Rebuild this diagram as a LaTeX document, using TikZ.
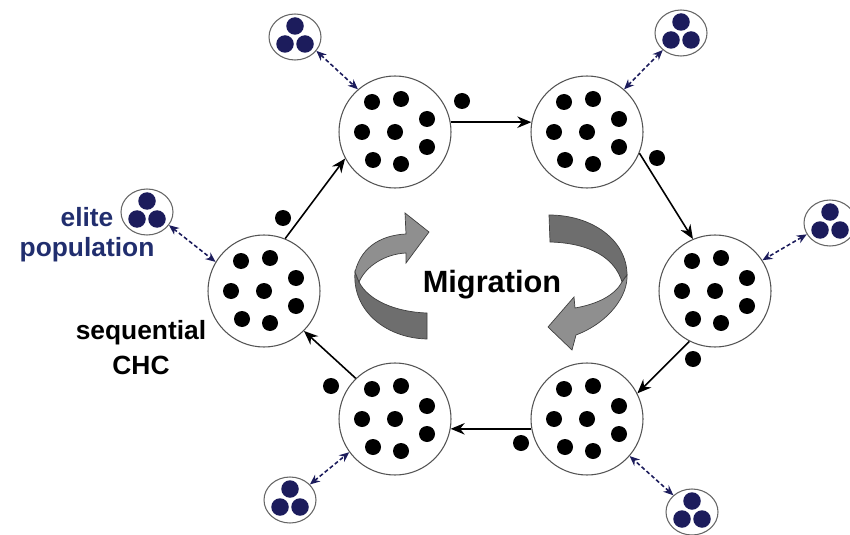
\documentclass[tikz,border=0pt]{standalone}
\usepackage{fontspec}
\setmainfont{Liberation Sans}
\usetikzlibrary{arrows.meta,shapes.geometric}
\definecolor{elitecolor}{rgb}{0.11,0.11,0.36}
\definecolor{elitetext}{rgb}{0.13,0.18,0.43}
\definecolor{ringcolor}{rgb}{0.33,0.33,0.33}
\definecolor{migdark}{rgb}{0.43,0.43,0.43}
\definecolor{miglight}{rgb}{0.56,0.56,0.56}

\begin{document}
\begin{tikzpicture}[x=0.2mm,y=-0.2mm,>={Stealth[length=2.8mm,width=2.3mm]},
  subpop/.style={circle,draw=ringcolor,line width=0.6pt,fill=white,minimum size=22.4mm,inner sep=0pt},
  elite/.style={ellipse,draw=black!60,line width=0.6pt,fill=white,minimum width=10.4mm,minimum height=9.2mm,inner sep=0pt},
  migrant/.style={circle,fill=black,minimum size=3.2mm,inner sep=0pt},
  flow/.style={->,line width=0.9pt},
  link/.style={<->,>={Stealth[length=2mm,width=1.7mm]},elitecolor,dash pattern=on 0.8mm off 0.5mm,line width=0.9pt},
  ribbon/.style={draw=black!75,line width=0.4pt},
  lbl/.style={font=\bfseries\fontsize{15}{18}\selectfont,anchor=base,inner sep=0pt}]
\useasboundingbox (0,0) rectangle (850,535);
% sub-populations on the ring
\node[subpop] (pw) at (264,291) {};
\node[subpop] (pnw) at (395,132) {};
\node[subpop] (pne) at (587,132) {};
\node[subpop] (pe) at (715,291) {};
\node[subpop] (pse) at (587,419) {};
\node[subpop] (psw) at (395,419) {};
\foreach \p in {pw,pnw,pne,pe,pse,psw}
  \foreach \dx/\dy in {-23/-30,6/-33,32/-13,-33/0,0/0,32/15,-22/28,6/32}
    \fill ([shift={(\dx,\dy)}]\p.center) circle (1.6mm);
% elite populations
\node[elite] (enw) at (295,37) {};
\node[elite] (ene) at (681,33) {};
\node[elite] (ee) at (830,223) {};
\node[elite] (ew) at (147,212) {};
\node[elite] (esw) at (290,500) {};
\node[elite] (ese) at (692,512) {};
\foreach \q in {enw,ene,ee,ew,esw,ese}
  \foreach \dx/\dy in {0/-11,-10/7,10/7}
    \fill[elitecolor] ([shift={(\dx,\dy)}]\q.center) circle (1.75mm);
\draw[link] (enw.-33) -- (pnw.131);
\draw[link] (ene.223) -- (pne.49);
\draw[link] (ee.206) -- (pe.33);
\draw[link] (ew.-31) -- (pw.149);
\draw[link] (esw.38) -- (psw.216);
\draw[link] (ese.138) -- (pse.-41);
% migration ring, clockwise
\draw[flow] (pw.68) -- (pnw.208);
\draw[flow] (pnw.10) -- (pne.170);
\draw[flow] (pne.-22) -- (pe.113);
\draw[flow] (pe.243) -- (pse.27);
\draw[flow] (pse.190) -- (psw.-10);
\draw[flow] (psw.134) -- (pw.-45);
% migrants
\node[migrant] (m1) at (462,101) {};
\node[migrant] (m2) at (657,158) {};
\node[migrant] (m3) at (693,359) {};
\node[migrant] (m4) at (521,443) {};
\node[migrant] (m5) at (331,386) {};
\node[migrant] (m6) at (283,218) {};
% curved arrows
\filldraw[ribbon,fill=migdark] (355,272) .. controls (352,310) and (385,338) .. (427,339)
  -- (427,313) .. controls (395,312) and (368,300) .. (359,282) -- cycle;
\filldraw[ribbon,fill=miglight] (406,234) .. controls (385,235) and (362,244) .. (355,272)
  -- (359,282) .. controls (366,266) and (385,254) .. (406,253)
  -- (406,263) -- (429,232) -- (405,213) -- cycle;
\filldraw[ribbon,fill=migdark] (549,215) .. controls (592,215) and (627,240) .. (627,275)
  -- (622,282) .. controls (615,258) and (590,243) .. (550,242) -- cycle;
\filldraw[ribbon,fill=miglight] (627,275) .. controls (628,295) and (610,322) .. (576,335)
  -- (572,350) -- (548,327) -- (574,297) -- (575,308)
  .. controls (598,304) and (615,295) .. (622,282) -- cycle;
% labels
\node[lbl,elitetext] (elitetxt) at (87,226) {elite};
\node[lbl,elitetext] (poptxt) at (87,256) {population};
\node[lbl] (seqtxt) at (141,339) {sequential};
\node[lbl] (chctxt) at (141,374) {CHC};
\node[lbl,font=\bfseries\fontsize{17.5}{20}\selectfont] (migtxt) at (492,292) {Migration};
\end{tikzpicture}
\end{document}
